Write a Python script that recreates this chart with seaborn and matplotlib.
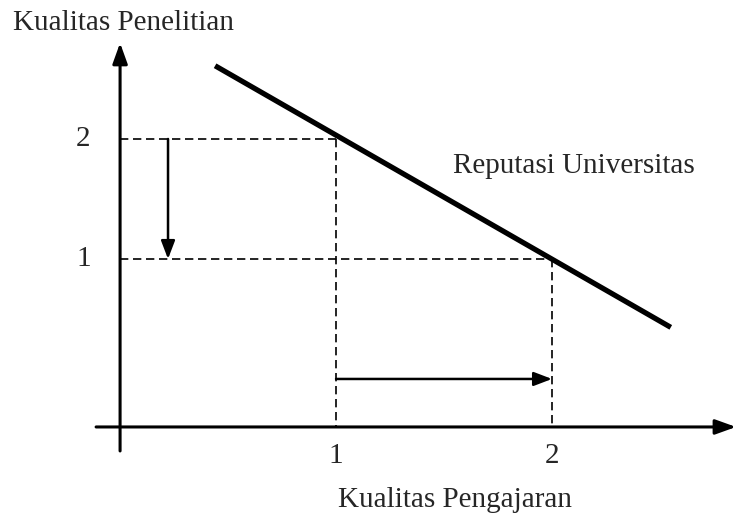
import matplotlib
matplotlib.use("Agg")
import matplotlib.pyplot as plt
import seaborn as sns
import pandas as pd

# ---- data ----
curve_x = [0.44, 2.55]          # Kualitas Pengajaran
curve_y = [2.61, 0.43]          # Kualitas Penelitian
x_levels = [1, 2]
y_levels = [2, 1]
x_tick_labels = ["1", "2"]
y_tick_labels = ["2", "1"]
curve_label = "Reputasi Universitas"
x_title = "Kualitas Pengajaran"
y_title = "Kualitas Penelitian"

sns.set_style("white")
plt.rcParams['font.family'] = ['Liberation Serif', 'DejaVu Serif']

fig = plt.figure(figsize=(7.36, 5.16), dpi=100)
ax = fig.add_axes([0, 0, 1, 1])
ax.set_xlim(-0.556, 2.852)
ax.set_ylim(-1.142, 3.158)
ax.axis("off")

df = pd.DataFrame({"x": curve_x, "y": curve_y})
sns.lineplot(data=df, x="x", y="y", ax=ax, color="black", linewidth=3.8,
             solid_capstyle="butt")

x_axis_y = -0.4
# axes with arrows
axis_head = "-|>,head_length=1.25,head_width=0.45"
ax.annotate("", xy=(2.852, x_axis_y), xytext=(-0.111, x_axis_y),
            arrowprops=dict(arrowstyle=axis_head, color="black", lw=2.2,
                            shrinkA=0, shrinkB=0))
ax.annotate("", xy=(0, 2.8), xytext=(0, -0.6),
            arrowprops=dict(arrowstyle=axis_head, color="black", lw=2.2,
                            shrinkA=0, shrinkB=0))

dash = dict(color="black", lw=1.2, linestyle=(0, (5, 2.8)))
# guide lines
for xv, yv in zip(x_levels, y_levels):
    ax.plot([0, xv], [yv, yv], **dash)
    ax.plot([xv, xv], [yv, x_axis_y], **dash)

# shift arrows
shift_head = "-|>,head_length=1.1,head_width=0.42"
ax.annotate("", xy=(0.222, y_levels[1]), xytext=(0.222, y_levels[0]),
            arrowprops=dict(arrowstyle=shift_head, color="black", lw=1.8,
                            shrinkA=0, shrinkB=0))
ax.annotate("", xy=(x_levels[1], 0), xytext=(x_levels[0], 0),
            arrowprops=dict(arrowstyle=shift_head, color="black", lw=1.8,
                            shrinkA=0, shrinkB=0))

fs = 21
for yv, lab in zip(y_levels, y_tick_labels):
    ax.text(-0.17, yv, lab, ha="center", va="center", fontsize=fs)
for xv, lab in zip(x_levels, x_tick_labels):
    ax.text(xv, -0.64, lab, ha="center", va="center", fontsize=fs)

ax.text(-0.495, 2.908, y_title, ha="left", va="baseline", fontsize=fs)
ax.text(1.009, -1.067, x_title, ha="left", va="baseline", fontsize=fs)
ax.text(1.54, 1.717, curve_label, ha="left", va="baseline", fontsize=fs)

fig.savefig("out.png", dpi=100)
